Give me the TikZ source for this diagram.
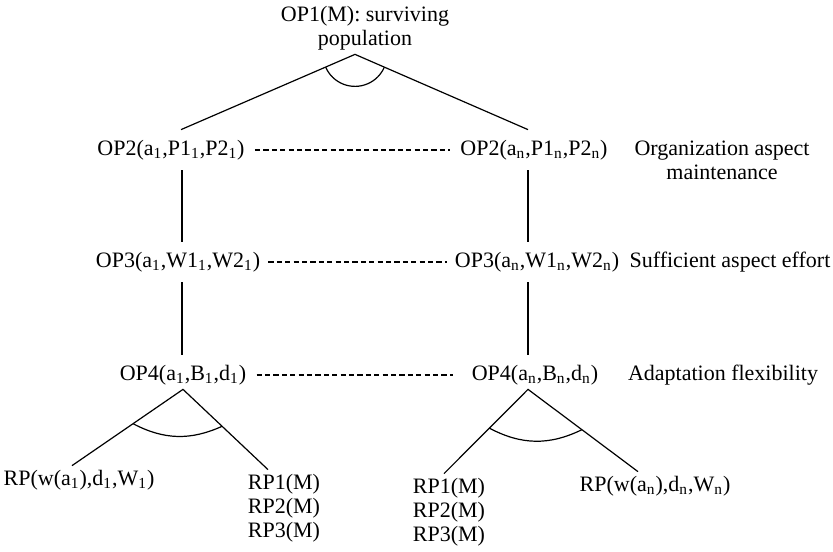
\documentclass[tikz,border=0pt]{standalone}
\usepackage{fontspec}
\setmainfont{Liberation Serif}
\usetikzlibrary{calc,angles,positioning}
\newcommand{\sub}[1]{\textsubscript{#1}}

\begin{document}
\begin{tikzpicture}[x=0.5pt,y=-0.5pt,font=\fontsize{11}{12}\selectfont,
    op/.style={inner xsep=3pt,inner ysep=5pt},
    rp/.style={inner xsep=3pt,inner ysep=2pt,align=center},
    side/.style={align=center},
    edge/.style={line width=0.6pt},
    gap/.style={line width=1.4pt,dash pattern=on 2.6pt off 1.6pt}]
  \useasboundingbox (0,0) rectangle (833,551);
  \node[align=center,inner sep=2pt] (op1) at (365,28) {OP1(M): surviving\\population};
  \node[op] (op2a) at (171,150) {OP2(a\sub{1},P1\sub{1},P2\sub{1})};
  \node[op] (op2n) at (534,150) {OP2(a\sub{n},P1\sub{n},P2\sub{n})};
  \node[op] (op3a) at (178,262) {OP3(a\sub{1},W1\sub{1},W2\sub{1})};
  \node[op] (op3n) at (537,262) {OP3(a\sub{n},W1\sub{n},W2\sub{n})};
  \node[op] (op4a) at (183,375) {OP4(a\sub{1},B\sub{1},d\sub{1})};
  \node[op] (op4n) at (535,375) {OP4(a\sub{n},B\sub{n},d\sub{n})};
  \node[side] (org) at (722,160) {Organization aspect\\maintenance};
  \node[side] (eff) at (730,262) {Sufficient aspect effort};
  \node[side] (flex) at (723,375) {Adaptation flexibility};
  \node[rp] (rpa) at (79,480) {RP(w(a\sub{1}),d\sub{1},W\sub{1})};
  \node[rp] (rpma) at (284,508) {RP1(M)\\RP2(M)\\RP3(M)};
  \node[rp] (rpmn) at (449,512) {RP1(M)\\RP2(M)\\RP3(M)};
  \node[rp] (rpn) at (655,486) {RP(w(a\sub{n}),d\sub{n},W\sub{n})};

  \coordinate (top) at ([xshift=-5pt]op1.south);
  \coordinate (topl) at ([xshift=5pt]op2a.north);
  \coordinate (topr) at ([xshift=-3pt]op2n.north);
  \draw[edge] (topl) -- (top) -- (topr);
  \pic[draw,edge,angle radius=16pt] {angle=topl--top--topr};

  \draw[edge] ([xshift=5.5pt]op2a.south) -- ([xshift=5.5pt]op2a.south |- op3a.north);
  \draw[edge] ([xshift=2pt]op3a.south) -- ([xshift=2pt]op3a.south |- op4a.north);
  \draw[edge] ([xshift=-3pt]op2n.south) -- ([xshift=-3pt]op2n.south |- op3n.north);
  \draw[edge] ([xshift=-4.5pt]op3n.south) -- ([xshift=-4.5pt]op3n.south |- op4n.north);

  \draw[gap,shorten <=2pt,shorten >=2pt] (op2a.east) -- (op2n.west);
  \draw[gap,shorten <=1pt,shorten >=1pt] (op3a.east) -- (op3n.west);
  \draw[gap,shorten <=2pt,shorten >=6pt] (op4a.east) -- (op4n.west);

  \coordinate (apexa) at ([yshift=3pt]op4a.south);
  \coordinate (enda) at ([xshift=-3.5pt]rpa.north);
  \coordinate (endma) at ([xshift=-8pt]rpma.north);
  \draw[edge] (enda) -- (apexa) -- (endma);
  \draw[edge] ($(apexa)!0.45!(enda)$) to[bend right=26] ($(apexa)!0.46!(endma)$);

  \coordinate (apexn) at ([xshift=-3.5pt,yshift=3pt]op4n.south);
  \coordinate (endmn) at ([xshift=-2.5pt]rpmn.north);
  \coordinate (endn) at ([xshift=-8.5pt]rpn.north);
  \draw[edge] (endmn) -- (apexn) -- (endn);
  \draw[edge] ($(apexn)!0.46!(endmn)$) to[bend right=27] ($(apexn)!0.49!(endn)$);
\end{tikzpicture}
\end{document}
